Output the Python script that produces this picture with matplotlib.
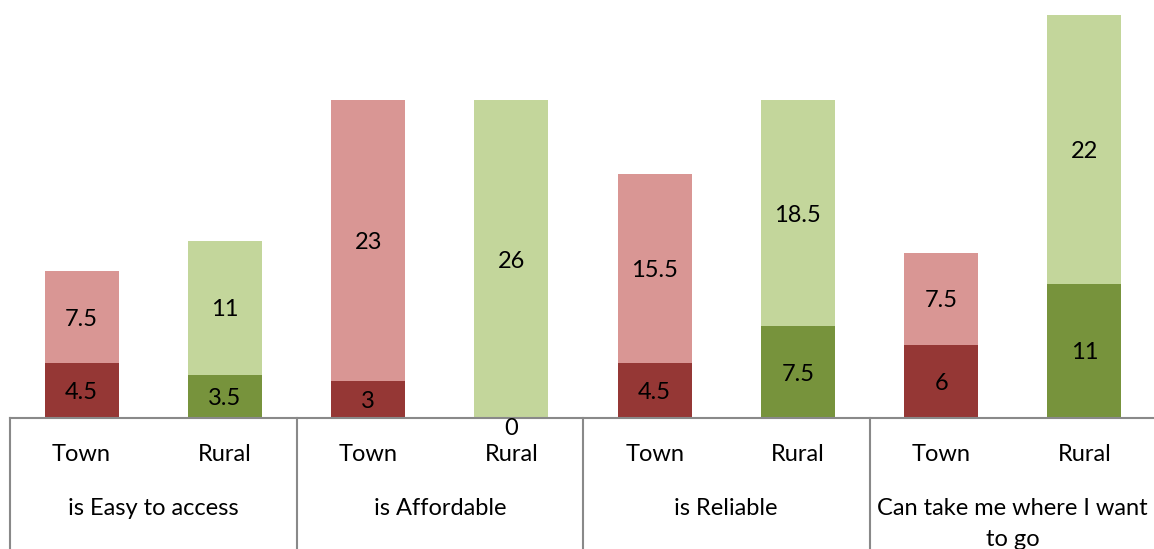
import matplotlib
matplotlib.use("Agg")
import matplotlib.pyplot as plt
import matplotlib.transforms as mtransforms

# data
groups = ["is Easy to access", "is Affordable", "is Reliable", "Can take me where I want\nto go"]
sub_labels = ["Town", "Rural"]
town_low = [4.5, 3, 4.5, 6]
town_high = [7.5, 23, 15.5, 7.5]
rural_low = [3.5, 0, 7.5, 11]
rural_high = [11, 26, 18.5, 22]

plt.rcParams['font.family'] = ['Lato', 'DejaVu Sans']
fs = 17

fig = plt.figure(figsize=(11.54, 5.49), dpi=100)
ax = fig.add_axes([10/1154, 131/549, 1146/1154, 418/549])

town_x = [2*i for i in range(len(groups))]
rural_x = [2*i + 1 for i in range(len(groups))]
w = 0.517

series = [
    (town_x, town_low, town_high, '#953735', '#D99694'),
    (rural_x, rural_low, rural_high, '#77933C', '#C3D69B'),
]

for xs, low, high, c_low, c_high in series:
    ax.bar(xs, low, width=w, color=c_low)
    ax.bar(xs, high, width=w, bottom=low, color=c_high)
    for x, lo, hi in zip(xs, low, high):
        if lo == 0:
            ax.text(x, 0, "0", ha='center', va='top', fontsize=fs)
        else:
            ax.text(x, lo/2, f"{lo:g}", ha='center', va='center_baseline', fontsize=fs)
        ax.text(x, lo + hi/2, f"{hi:g}", ha='center', va='center_baseline', fontsize=fs)

ax.set_xlim(-0.5, 2*len(groups) - 0.5)
ax.set_ylim(0, 34.2)

for s in ['top', 'left', 'right']:
    ax.spines[s].set_visible(False)
ax.spines['bottom'].set_color('#898989')
ax.spines['bottom'].set_linewidth(1.5)
ax.set_xticks([])
ax.set_yticks([])

# category table below the axis
trans = mtransforms.blended_transform_factory(ax.transData, ax.transAxes)
for i in range(len(groups)):
    ax.axvline(2*i - 0.5, ymin=-0.32, ymax=0, color='#898989', lw=1.5, clip_on=False)
    ax.text(2*i, -0.088, sub_labels[0], transform=trans, ha='center', va='center', fontsize=fs)
    ax.text(2*i + 1, -0.088, sub_labels[1], transform=trans, ha='center', va='center', fontsize=fs)
    ax.text(2*i + 0.5, -0.192, groups[i], transform=trans, ha='center', va='top',
            fontsize=fs, linespacing=1.6, multialignment='center')

fig.savefig("out.png", dpi=100)
